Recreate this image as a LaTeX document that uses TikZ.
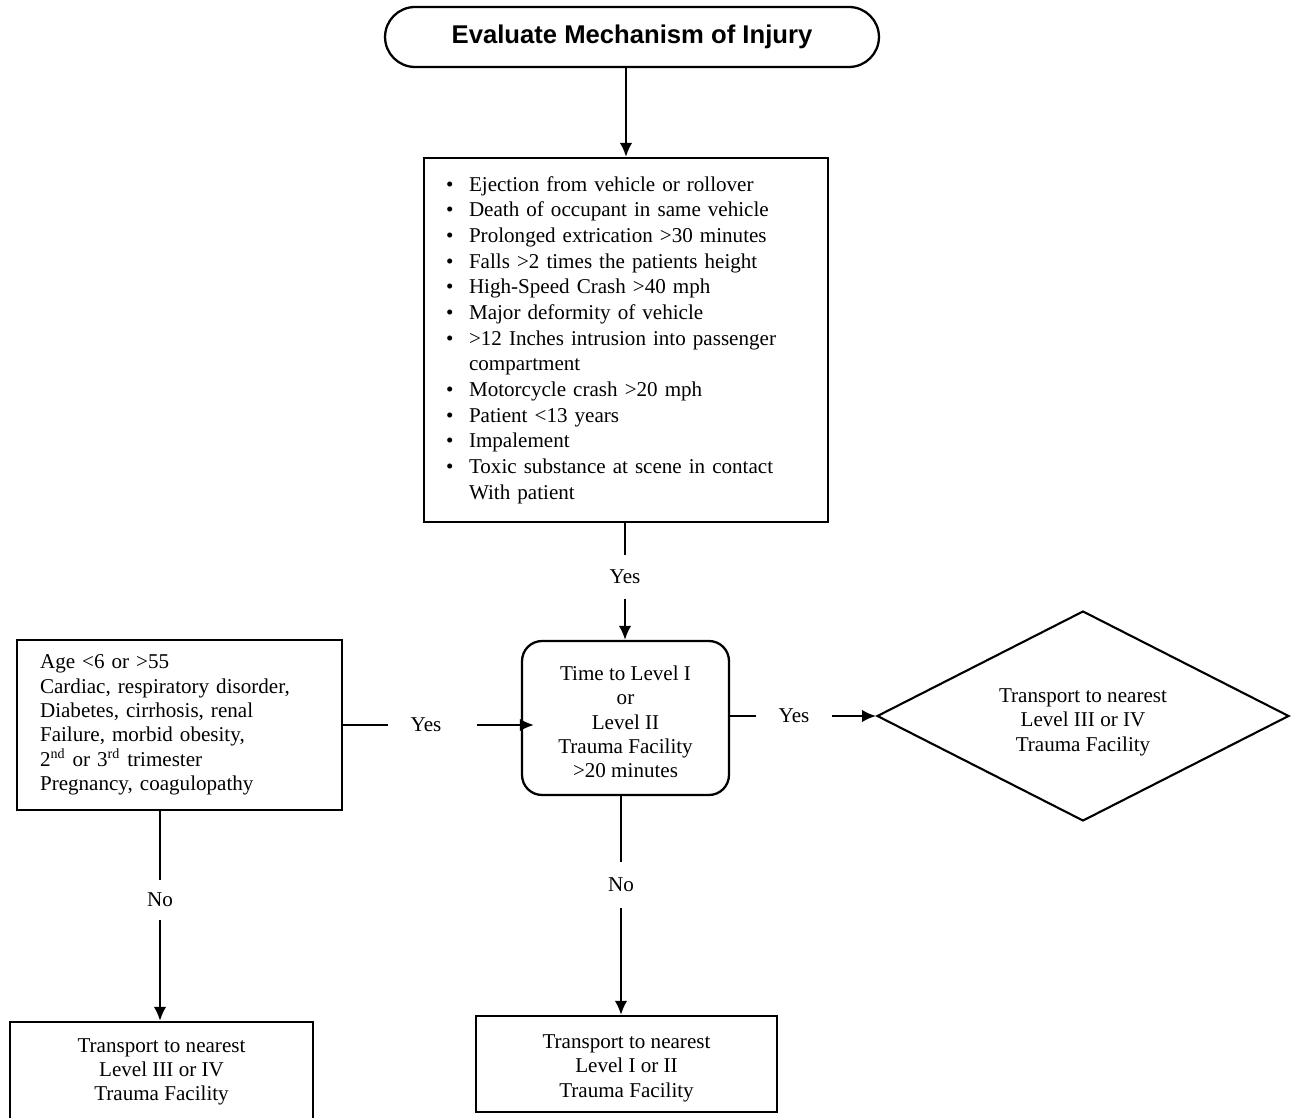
\documentclass[tikz,border=0pt]{standalone}
\usepackage{fontspec}
\setmainfont{Liberation Serif}
\newfontfamily\titlefont{Liberation Sans}
\usetikzlibrary{arrows.meta,shapes.misc,shapes.geometric}
\begin{document}
\begin{tikzpicture}[x=0.02cm,y=-0.02cm,
  txt/.style={font=\fontsize{12}{13.8}\selectfont},
  box/.style={draw,line width=1.3pt,inner sep=0pt,txt},
  lbl/.style={inner sep=0pt,txt},
  ln/.style={line width=1.2pt},
  arr/.style={line width=1.2pt,-{Latex[length=0.28cm,width=0.25cm]}}]
\useasboundingbox (0,0) rectangle (1291,1118);
\clip (0,0) rectangle (1291,1118);
\fill[white] (0,0) rectangle (1291,1118);

% title terminal
\node[draw,line width=1.3pt,rounded rectangle,minimum width=9.88cm,minimum height=1.2cm,
      inner sep=0pt,font=\titlefont\bfseries\fontsize{14.6}{16}\selectfont] (start) at (632,37)
      {Evaluate Mechanism of Injury};

% bullet list box
\node[box,minimum width=8.08cm,minimum height=7.28cm,inner xsep=0.44cm,text width=7.2cm,align=left,
      font=\fontsize{12}{14.6}\selectfont] (bullets) at (626,340)
{\makebox[0.46cm][l]{\textbullet}Ejection from vehicle or rollover\\
 \makebox[0.46cm][l]{\textbullet}Death of occupant in same vehicle\\
 \makebox[0.46cm][l]{\textbullet}Prolonged extrication >30 minutes\\
 \makebox[0.46cm][l]{\textbullet}Falls >2 times the patients height\\
 \makebox[0.46cm][l]{\textbullet}High-Speed Crash >40 mph\\
 \makebox[0.46cm][l]{\textbullet}Major deformity of vehicle\\
 \makebox[0.46cm][l]{\textbullet}>12 Inches intrusion into passenger\\
 \hspace*{0.46cm}compartment\\
 \makebox[0.46cm][l]{\textbullet}Motorcycle crash >20 mph\\
 \makebox[0.46cm][l]{\textbullet}Patient <13 years\\
 \makebox[0.46cm][l]{\textbullet}Impalement\\
 \makebox[0.46cm][l]{\textbullet}Toxic substance at scene in contact\\
 \hspace*{0.46cm}With patient};

% decision box
\node[box,rounded corners=0.4cm,minimum width=4.14cm,minimum height=3.08cm,align=center] (time) at (625.5,718)
{\rule{0pt}{12.7pt}Time to Level I\\or\\Level II\\Trauma Facility\\>20 minutes};

% left risk box
\node[box,minimum width=6.5cm,minimum height=3.4cm,inner xsep=0.46cm,text width=5.58cm,align=left,
      font=\fontsize{12}{13.9}\selectfont] (risk) at (179.5,725)
{Age <6 or >55\\
 Cardiac, respiratory disorder,\\
 Diabetes, cirrhosis, renal\\
 Failure, morbid obesity,\\
 2\textsuperscript{nd} or 3\textsuperscript{rd} trimester\\
 Pregnancy, coagulopathy};

% diamond
\node[draw,line width=1.2pt,diamond,aspect=2,minimum width=8.24cm,minimum height=4.2cm,inner sep=0pt,
      align=center,txt] (lvl34d) at (1083,716)
{\rule{0pt}{15pt}Transport to nearest\\Level III or IV\\Trauma Facility};

% bottom boxes
\node[box,minimum width=6.06cm,minimum height=2cm,align=center] (lvl34b) at (161.5,1072)
{Transport to nearest\\Level III or IV\\Trauma Facility};
\node[box,minimum width=6.02cm,minimum height=1.92cm,align=center] (lvl12) at (626.5,1064)
{\rule{0pt}{12.7pt}Transport to nearest\\Level I or II\\Trauma Facility};

% labels
\node[lbl,minimum height=0.86cm] (yes1) at (625,577) {Yes};
\node[lbl,minimum width=1.52cm] (yes2) at (426,725) {Yes};
\node[lbl,minimum width=1.52cm] (yes3) at (794,716) {Yes};
\node[lbl,minimum height=0.8cm] (no1) at (160,900) {No};
\node[lbl,minimum height=0.92cm] (no2) at (621,885) {No};

% connectors
\draw[arr] (start.south -| bullets.north) -- (bullets.north);
\draw[ln] (bullets.south -| yes1) -- (yes1.north);
\draw[arr] (yes1.south) -- (yes1.south |- time.north);
\draw[ln] (risk.east) -- (yes2.west);
\draw[arr] ([xshift=0.26cm]yes2.east) -- ([xshift=0.26cm]yes2.east -| time.west);
\draw[ln] (time.east |- yes3) -- (yes3.west);
\draw[arr] (yes3.east) -- (lvl34d.west);
\draw[ln] (risk.south -| no1) -- (no1.north);
\draw[arr] (no1.south) -- (no1.south |- lvl34b.north);
\draw[ln] (time.south -| no2) -- (no2.north);
\draw[arr] (no2.south) -- (no2.south |- lvl12.north);
\end{tikzpicture}
\end{document}
